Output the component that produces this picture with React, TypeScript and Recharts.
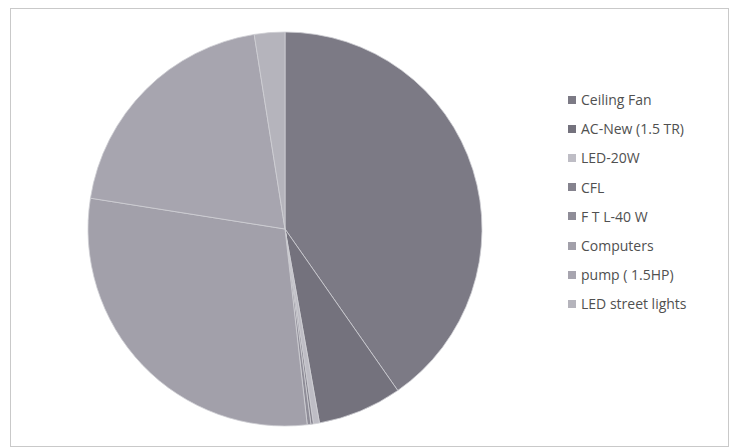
import React from "react";
import { PieChart, Pie, Cell, Legend } from "recharts";

const categories = [
  "Ceiling Fan",
  "AC-New (1.5 TR)",
  "LED-20W",
  "CFL",
  "F T L-40 W",
  "Computers",
  "pump ( 1.5HP)",
  "LED street lights",
];
const shares = [40.3, 6.9, 0.5, 0.2, 0.3, 29.3, 20.0, 2.5];
const colors = ["#7c7a85", "#74727d", "#bebdc5", "#85838e", "#8f8d98", "#a2a0aa", "#a7a5af", "#b5b4bc"];

const data = categories.map((name, i) => ({ name, value: shares[i] }));

const renderLegend = () => {
  return (
    <div style={{ fontFamily: "'Open Sans', sans-serif", fontSize: 14, color: "#505050" }}>
      {categories.map((name, i) => (
        <div key={name} style={{ height: 29.2, display: "flex", alignItems: "center" }}>
          <span style={{ display: "inline-block", width: 8, height: 8, background: colors[i], marginRight: 5 }} />
          <span>{name}</span>
        </div>
      ))}
    </div>
  );
};

export default function App() {
  return (
    <div style={{ position: "absolute", left: 0, top: 0, width: 733, height: 448, background: "#fff" }}>
      <div style={{ position: "absolute", left: 10, top: 8, width: 717, height: 437, border: "1px solid #c9c9c9" }} />
      <div style={{ position: "absolute", left: 0, top: 0 }}>
        <PieChart width={733} height={448} margin={{ top: 0, right: 0, bottom: 0, left: 0 }}>
          <Pie
            data={data}
            dataKey="value"
            nameKey="name"
            cx={285}
            cy={229}
            outerRadius={197}
            startAngle={90}
            endAngle={-270}
            stroke="#cfcfd4"
            strokeWidth={0.8}
            isAnimationActive={false}
          >
            {data.map((d, i) => (
              <Cell key={d.name} fill={colors[i]} />
            ))}
          </Pie>
          <Legend
            layout="vertical"
            content={renderLegend}
            wrapperStyle={{ left: 568, top: 85, width: 165 }}
          />
        </PieChart>
      </div>
    </div>
  );
}
